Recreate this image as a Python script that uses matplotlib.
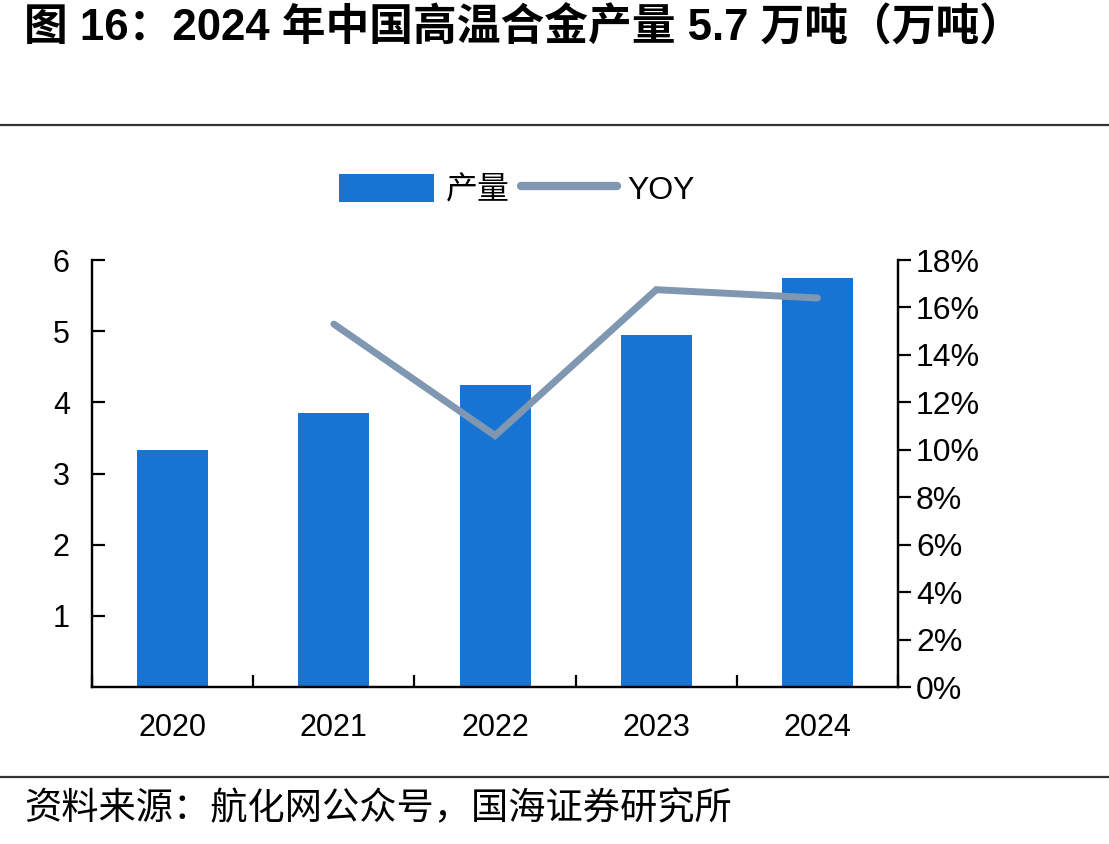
import numpy as np
import matplotlib
matplotlib.use("Agg")
import matplotlib.pyplot as plt
from matplotlib.lines import Line2D
from matplotlib.patches import Patch
from matplotlib.ticker import FuncFormatter

plt.rcParams['font.family'] = ['Liberation Sans', 'Noto Sans CJK SC', 'DejaVu Sans']

##### data #####
years = ["2020", "2021", "2022", "2023", "2024"]
output = [3.33, 3.85, 4.25, 4.94, 5.75]          # 万吨
yoy = [np.nan, 15.3, 10.6, 16.75, 16.4]          # %

bar_color = "#1874D2"
line_color = "#8097B2"

fig = plt.figure(figsize=(11.09, 8.44), dpi=100)
ax = fig.add_axes([0.083, 0.186, 0.7268, 0.5059])
ax2 = ax.twinx()

x = np.arange(len(years))
ax.bar(x, output, width=0.44, color=bar_color, zorder=2)
ax2.plot(x, yoy, color=line_color, lw=5, solid_capstyle="round", solid_joinstyle="miter", zorder=3)

ax.set_xlim(-0.5, len(years) - 0.5)
ax.set_ylim(0, 6)
ax2.set_ylim(0, 18)

# spines
for a in (ax, ax2):
    a.spines["top"].set_visible(False)
    for s in ("left", "right", "bottom"):
        a.spines[s].set_linewidth(1.6)
        a.spines[s].set_color("black")

# left axis
ax.set_yticks([1, 2, 3, 4, 5, 6])
ax.tick_params(axis="y", direction="in", length=9, width=1.6, labelsize=22, pad=16)

# right axis
ax2.set_yticks(np.arange(0, 19, 2))
ax2.yaxis.set_major_formatter(FuncFormatter(lambda v, p: f"{v:.0f}%"))
ax2.tick_params(axis="y", direction="out", length=9, width=1.6, labelsize=23, pad=4)

# x axis: labels at centres, tick marks at boundaries
ax.set_xticks(x)
ax.set_xticklabels(years)
ax.tick_params(axis="x", length=0, labelsize=22, pad=19)
ax.set_xticks(np.arange(-0.5, len(years), 1), minor=True)
ax.tick_params(axis="x", which="minor", direction="in", length=9, width=1.6)

# legend
handles = [Patch(facecolor=bar_color, edgecolor="none", label="产量"),
           Line2D([], [], color=line_color, lw=6, solid_capstyle="round", label="YOY")]
fig.legend(handles=handles, loc="center", bbox_to_anchor=(0.466, 0.775), ncol=2,
           frameon=False, fontsize=23, handlelength=3.0, handleheight=1.0,
           handletextpad=0.35, columnspacing=0.35)

# title, rules and source
fig.text(0.022, 0.966, "图 16：2024 年中国高温合金产量 5.7 万吨（万吨）",
         fontsize=31.5, fontweight="bold", va="center", ha="left")
fig.add_artist(Line2D([0, 1], [0.852, 0.852], color="#333333", lw=1.6))
fig.add_artist(Line2D([0, 1], [0.079, 0.079], color="#333333", lw=1.6))
fig.text(0.022, 0.042, "资料来源：航化网公众号，国海证券研究所",
         fontsize=26.8, va="center", ha="left", family=["Noto Sans CJK SC"])

fig.savefig("out.png", dpi=100)
